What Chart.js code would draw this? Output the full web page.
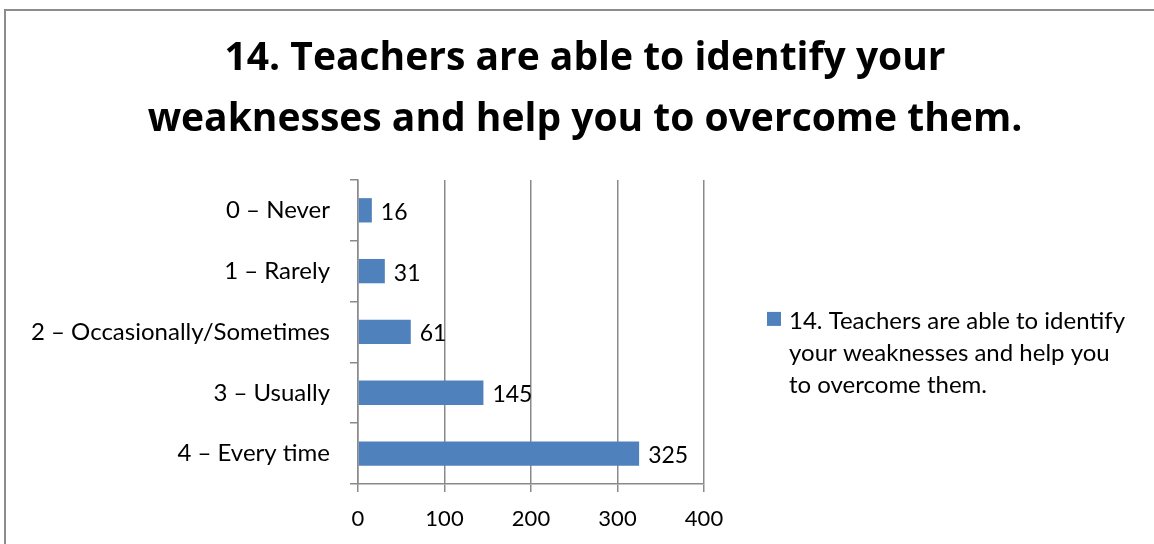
<!DOCTYPE html>
<html>
<head>
<meta charset="utf-8">
<script src="https://cdn.jsdelivr.net/npm/chart.js@4.4.1/dist/chart.umd.min.js"></script>
<style>
  html, body { margin: 0; padding: 0; background: #fff; }
  #chart { position: absolute; left: 0; top: 0; }
  #frame {
    position: absolute; left: 4px; top: 9px; right: 0; bottom: 0;
    border-top: 2px solid #8c8c8c; border-left: 2px solid #8c8c8c;
    pointer-events: none;
  }
</style>
</head>
<body>
<canvas id="chart" width="1154" height="544"></canvas>
<div id="frame"></div>
<script>
const titleLines = ['14. Teachers are able to identify your', 'weaknesses and help you to overcome them.'];
const seriesName = '14. Teachers are able to identify your weaknesses and help you to overcome them.';
const categories = ['0 – Never', '1 – Rarely', '2 – Occasionally/Sometimes', '3 – Usually', '4 – Every time'];
const counts = [16, 31, 61, 145, 325];
const xMin = 0;
const xMax = 400;
const xStep = 100;

const barColor = '#4f81bd';
const axisGray = '#8a8a8a';
const fontFamily = 'Lato, "Open Sans", sans-serif';

// title is centred on the whole frame, not just the plot + axis part
const centerTitle = {
  id: 'centerTitle',
  afterLayout(chart) {
    const t = chart.titleBlock;
    if (!t) return;
    t.left = 8;
    t.right = 1162;
    t.width = t.right - t.left;
  }
};

// value labels to the right of each bar
const barLabels = {
  id: 'barLabels',
  afterDatasetsDraw(chart) {
    const ctx = chart.ctx;
    const meta = chart.getDatasetMeta(0);
    ctx.save();
    ctx.font = '23px ' + fontFamily;
    ctx.fillStyle = '#000';
    ctx.textAlign = 'left';
    ctx.textBaseline = 'middle';
    meta.data.forEach((bar, i) => {
      ctx.fillText(String(chart.data.datasets[0].data[i]), bar.x + 9, bar.y + 2);
    });
    ctx.restore();
  }
};

// legend on the right with wrapped text, like the original
const sideLegend = {
  id: 'sideLegend',
  afterDraw(chart) {
    const ctx = chart.ctx;
    const area = chart.chartArea;
    const text = chart.data.datasets[0].label;
    ctx.save();
    ctx.font = '24px ' + fontFamily;
    const words = text.split(' ');
    const lines = [];
    let line = '';
    words.forEach(w => {
      const test = line ? line + ' ' + w : w;
      if (ctx.measureText(test).width > 342 && line) {
        lines.push(line);
        line = w;
      } else {
        line = test;
      }
    });
    if (line) lines.push(line);

    const boxX = area.right + 63;
    const firstY = area.top + 139;
    ctx.fillStyle = barColor;
    ctx.fillRect(boxX, firstY - 7, 14, 14);
    ctx.fillStyle = '#000';
    ctx.textAlign = 'left';
    ctx.textBaseline = 'middle';
    lines.forEach((l, i) => ctx.fillText(l, boxX + 22, firstY + 2 + i * 32));
    ctx.restore();
  }
};

new Chart(document.getElementById('chart').getContext('2d'), {
  type: 'bar',
  data: {
    labels: categories,
    datasets: [{
      label: seriesName,
      data: counts,
      backgroundColor: barColor,
      borderWidth: 0,
      barPercentage: 0.4,
      categoryPercentage: 1
    }]
  },
  options: {
    indexAxis: 'y',
    responsive: false,
    devicePixelRatio: 1,
    animation: false,
    layout: { padding: { left: 0, right: 450, top: 0, bottom: 0 } },
    plugins: {
      legend: { display: false },
      tooltip: { enabled: false },
      title: {
        display: true,
        text: titleLines,
        color: '#000',
        font: { family: '"Open Sans", Lato, sans-serif', size: 39, weight: 'bold', lineHeight: 1.55 },
        padding: { top: 29, bottom: 30 }
      }
    },
    scales: {
      x: {
        min: xMin,
        max: xMax,
        ticks: {
          stepSize: xStep,
          color: '#000',
          padding: 14,
          font: { family: fontFamily, size: 22 }
        },
        grid: { color: axisGray, lineWidth: 1.5, tickLength: 8 },
        border: { color: axisGray, width: 1.5 },
        afterFit: s => { s.height = 60; }
      },
      y: {
        ticks: {
          color: '#000',
          padding: 20,
          font: { family: fontFamily, size: 24 }
        },
        grid: { offset: true, drawOnChartArea: false, color: axisGray, lineWidth: 1.5, tickLength: 8 },
        border: { color: axisGray, width: 1.5 },
        afterFit: s => { s.width = 358; }
      }
    }
  },
  plugins: [centerTitle, barLabels, sideLegend]
});
</script>
</body>
</html>
